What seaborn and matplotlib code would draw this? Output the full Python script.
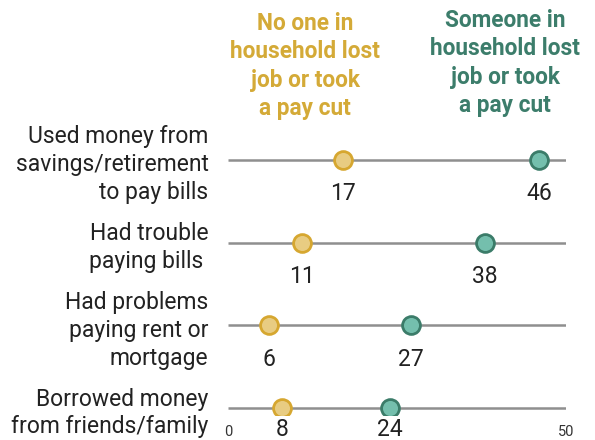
import pandas as pd
import seaborn as sns
import matplotlib.pyplot as plt

categories = ['Used money from\nsavings/retirement\nto pay bills',
              'Had trouble\npaying bills ',
              'Had problems\npaying rent or\nmortgage',
              'Borrowed money\nfrom friends/family']
no_loss = [17, 11, 6, 8]
job_loss = [46, 38, 27, 24]
groups = ['No one in\nhousehold lost\njob or took\na pay cut',
          'Someone in\nhousehold lost\njob or took\na pay cut']

rows = []
for i, cat in enumerate(categories):
    rows.append({'row': i, 'group': groups[0], 'value': no_loss[i]})
    rows.append({'row': i, 'group': groups[1], 'value': job_loss[i]})
df = pd.DataFrame(rows)

sns.set_style('white')
plt.rcParams['font.family'] = ['Roboto', 'DejaVu Sans']

gold_edge, gold_fill = '#D6A730', '#E8CC82'
green_edge, green_fill = '#3B7C69', '#74BFAD'
# vertical offset of value labels below each row (last row sits tight to the edge)
label_offset = [0.41, 0.41, 0.41, 0.26]

fig = plt.figure(figsize=(5.95, 4.40), dpi=100)
ax = fig.add_axes([228 / 595, 1 - 415 / 440, 338 / 595, 295 / 440])

ax.hlines(range(len(categories)), 0, 50, color='#8f8f8f', lw=1.8, zorder=1)

for g, edge, fill in [(groups[0], gold_edge, gold_fill), (groups[1], green_edge, green_fill)]:
    sub = df[df['group'] == g]
    sns.scatterplot(data=sub, x='value', y='row', ax=ax, s=165, color=fill,
                    edgecolor=edge, linewidth=2.0, zorder=3, legend=False)
    for _, r in sub.iterrows():
        ax.text(r['value'], r['row'] + label_offset[int(r['row'])], f"{r['value']:.0f}",
                ha='center', va='center', fontsize=16.5, color='#222222', clip_on=False)

ax.set_xlim(0, 50)
ax.set_ylim(3.084, -0.482)
ax.set_xticks([0, 50])
ax.set_xticklabels(['0', '50'], fontsize=10.5, color='#333333')
ax.tick_params(axis='x', length=0, pad=7)
ax.set_yticks(range(len(categories)))
ax.set_yticklabels(categories, fontsize=16.5, color='#222222', linespacing=1.27)
ax.tick_params(axis='y', length=0, pad=14)
ax.set_xlabel('')
ax.set_ylabel('')
sns.despine(ax=ax, left=True, bottom=True)

fig.text(305 / 595, 1 - 66 / 440, groups[0], ha='center', va='center', fontsize=16.3,
         fontweight='bold', color='#D4AA37', linespacing=1.28)
fig.text(505 / 595, 1 - 63 / 440, groups[1], ha='center', va='center', fontsize=16.3,
         fontweight='bold', color='#3C7D6B', linespacing=1.28)

fig.savefig('out.png', dpi=100)
